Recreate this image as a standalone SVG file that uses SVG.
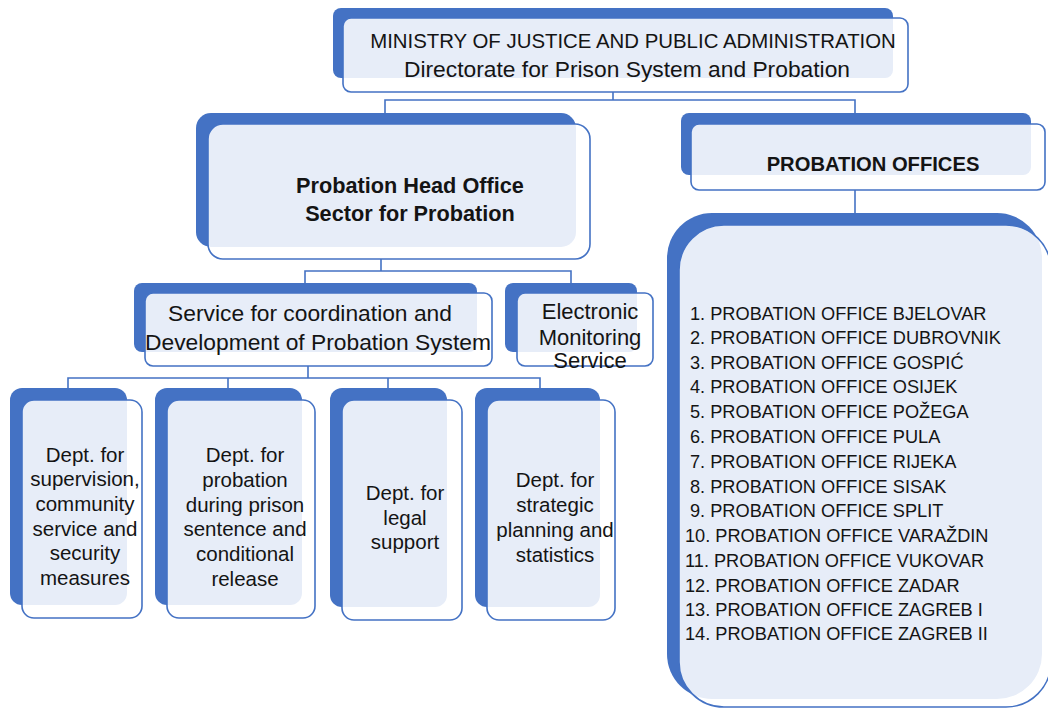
<svg xmlns="http://www.w3.org/2000/svg" width="1048" height="710" viewBox="0 0 1048 710">
<style>
.back{fill:#4472C4;}
.front{fill:#ffffff;fill-opacity:0.87;stroke:#4472C4;stroke-width:1.6;}
.conn{fill:none;stroke:#4472C4;stroke-width:1.6;}
text{font-family:"Liberation Sans",Arial,sans-serif;fill:#141414;}
.c{text-anchor:middle;}
.b{font-weight:bold;}
.dept{font-size:20.5px;text-anchor:middle;}
.po{font-size:18.2px;}
</style>
<rect width="1048" height="710" fill="#ffffff"/>
<g id="connectors">
<path class="conn" d="M613,92 V100 M385,113 V100 H855 V113"/>
<path class="conn" d="M381,259 V271 H305 V283 M381,271 H571 V283"/>
<path class="conn" d="M308,366 V378 M68,388 V378 H540 V388 M228,378 V388 M388,378 V388"/>
<path class="conn" d="M855,190 V213"/>
</g>
<g id="ministry">
<rect class="back" x="333" y="8" width="560" height="70" rx="8"/>
<rect class="front" x="343" y="18" width="565" height="74" rx="8"/>
<text class="c" x="633" y="48" font-size="20.4">MINISTRY OF JUSTICE AND PUBLIC ADMINISTRATION</text>
<text class="c" x="627" y="77" font-size="22.8">Directorate for Prison System and Probation</text>
</g>
<g id="head-office">
<rect class="back" x="196" y="113" width="380" height="134" rx="15"/>
<rect class="front" x="208" y="124" width="382" height="135" rx="15"/>
<text class="c b" x="410" y="193" font-size="21.7">Probation Head Office</text>
<text class="c b" x="410" y="221" font-size="21.7">Sector for Probation</text>
</g>
<g id="probation-offices-header">
<rect class="back" x="681" y="113" width="350" height="62" rx="8"/>
<rect class="front" x="691" y="124" width="354" height="66" rx="8"/>
<text class="c b" x="873" y="171" font-size="20.2">PROBATION OFFICES</text>
</g>
<g id="service-coordination">
<rect class="back" x="134" y="283" width="343" height="69" rx="8"/>
<rect class="front" x="145" y="293" width="347" height="73" rx="8"/>
<text class="c" x="310" y="321" font-size="22.8">Service for coordination and</text>
<text class="c" x="318" y="350" font-size="22.8">Development of Probation System</text>
</g>
<g id="electronic-monitoring">
<rect class="back" x="505" y="283" width="132" height="69" rx="8"/>
<rect class="front" x="517" y="293" width="136" height="73" rx="8"/>
<text class="c" x="590" y="319" font-size="22">Electronic</text>
<text class="c" x="590" y="345" font-size="22">Monitoring</text>
<text class="c" x="590" y="368" font-size="22">Service</text>
</g>
<g id="dept-supervision">
<rect class="back" x="10" y="388" width="117" height="217" rx="12"/>
<rect class="front" x="22" y="400" width="120" height="218" rx="12"/>
<text class="dept" x="85" y="462">Dept. for</text>
<text class="dept" x="85" y="486">supervision,</text>
<text class="dept" x="85" y="511">community</text>
<text class="dept" x="85" y="536">service and</text>
<text class="dept" x="85" y="560">security</text>
<text class="dept" x="85" y="585">measures</text>
</g>
<g id="dept-probation-prison">
<rect class="back" x="155" y="388" width="147" height="217" rx="12"/>
<rect class="front" x="167" y="400" width="148" height="218" rx="12"/>
<text class="dept" x="245" y="462">Dept. for</text>
<text class="dept" x="245" y="487">probation</text>
<text class="dept" x="245" y="512">during prison</text>
<text class="dept" x="245" y="536">sentence and</text>
<text class="dept" x="245" y="561">conditional</text>
<text class="dept" x="245" y="586">release</text>
</g>
<g id="dept-legal">
<rect class="back" x="330" y="388" width="117" height="219" rx="12"/>
<rect class="front" x="342" y="400" width="120" height="220" rx="12"/>
<text class="dept" x="405" y="500">Dept. for</text>
<text class="dept" x="405" y="525">legal</text>
<text class="dept" x="405" y="549">support</text>
</g>
<g id="dept-strategic">
<rect class="back" x="475" y="388" width="125" height="219" rx="12"/>
<rect class="front" x="487" y="400" width="128" height="220" rx="12"/>
<text class="dept" x="555" y="487">Dept. for</text>
<text class="dept" x="555" y="512">strategic</text>
<text class="dept" x="555" y="537">planning and</text>
<text class="dept" x="555" y="562">statistics</text>
</g>
<g id="probation-offices-list">
<rect class="back" x="667" y="213" width="375" height="486" rx="45"/>
<rect class="front" x="679" y="225" width="372" height="482" rx="45"/>
<text class="po" x="690" y="320">1. PROBATION OFFICE BJELOVAR</text>
<text class="po" x="690" y="344">2. PROBATION OFFICE DUBROVNIK</text>
<text class="po" x="690" y="369">3. PROBATION OFFICE GOSPIĆ</text>
<text class="po" x="690" y="393">4. PROBATION OFFICE OSIJEK</text>
<text class="po" x="690" y="418">5. PROBATION OFFICE POŽEGA</text>
<text class="po" x="690" y="443">6. PROBATION OFFICE PULA</text>
<text class="po" x="690" y="468">7. PROBATION OFFICE RIJEKA</text>
<text class="po" x="690" y="493">8. PROBATION OFFICE SISAK</text>
<text class="po" x="690" y="517">9. PROBATION OFFICE SPLIT</text>
<text class="po" x="685" y="542">10. PROBATION OFFICE VARAŽDIN</text>
<text class="po" x="685" y="567">11. PROBATION OFFICE VUKOVAR</text>
<text class="po" x="685" y="592">12. PROBATION OFFICE ZADAR</text>
<text class="po" x="685" y="616">13. PROBATION OFFICE ZAGREB I</text>
<text class="po" x="685" y="640">14. PROBATION OFFICE ZAGREB II</text>
</g>
</svg>
